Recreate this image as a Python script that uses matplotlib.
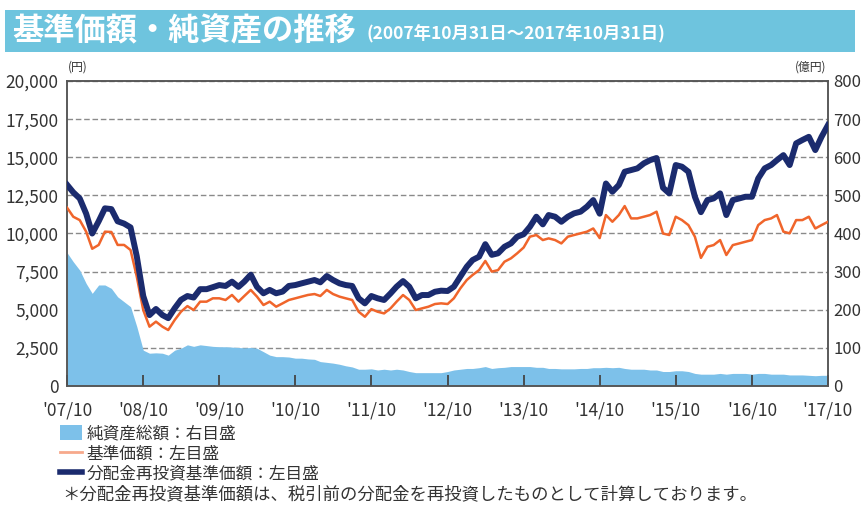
import matplotlib
matplotlib.use("Agg")
import matplotlib.pyplot as plt
import matplotlib.ticker as mticker
from matplotlib.patches import Rectangle, Patch
from matplotlib.lines import Line2D
import pandas as pd

plt.rcParams['font.family'] = ['Noto Sans CJK JP', 'DejaVu Sans']

# ---- data (monthly, 2007/10/31 - 2017/10/31) ----
dates = pd.date_range(start='2007-10-31', periods=121, freq='ME')

# 分配金再投資基準価額 (円, left axis)
reinvested_nav = [
    13200, 12700, 12300, 11300, 10000, 10800, 11650, 11600, 10800, 10650,
    10400, 8500, 5900, 4650, 5050, 4650, 4450, 5100, 5650, 5900,
    5800, 6350, 6350, 6480, 6620, 6560, 6840, 6500, 6840, 7300,
    6500, 6080, 6300, 6080, 6190, 6560, 6620, 6730, 6840, 6950,
    6800, 7210, 6950, 6730, 6620, 6560, 5750, 5420, 5900, 5750,
    5640, 6070, 6510, 6880, 6510, 5750, 5965, 5965, 6180, 6250,
    6230, 6510, 7170, 7820, 8260, 8480, 9300, 8600, 8700, 9130,
    9350, 9790, 9950, 10440, 11100, 10600, 11210, 11100, 10770, 11100,
    11320, 11430, 11760, 12190, 11300, 13280, 12740, 13180, 14050, 14160,
    14270, 14600, 14810, 14950, 13000, 12630, 14490, 14380, 14050, 12410,
    11400, 12190, 12300, 12630, 11210, 12190, 12300, 12410, 12410, 13610,
    14270, 14490, 14810, 15140, 14490, 15910, 16130, 16340, 15470, 16340,
    17110,
]

# 基準価額 (円, left axis)
nav = [
    11700, 11100, 10880, 10120, 9000, 9250, 10120, 10100, 9250, 9250,
    8920, 7170, 4980, 3890, 4220, 3890, 3670, 4330, 4870, 5240,
    4980, 5530, 5530, 5750, 5750, 5640, 5970, 5530, 5900, 6300,
    5860, 5310, 5530, 5200, 5420, 5640, 5750, 5860, 5970, 6030,
    5900, 6300, 6030, 5860, 5750, 5640, 4870, 4540, 5040, 4870,
    4760, 5090, 5530, 5965, 5640, 4980, 5090, 5200, 5375, 5420,
    5375, 5750, 6400, 6950, 7280, 7600, 8200, 7500, 7600, 8150,
    8370, 8700, 9080, 9790, 9900, 9570, 9680, 9570, 9350, 9790,
    9900, 10010, 10120, 10330, 9700, 11210, 10770, 11210, 11800, 10990,
    10990, 11100, 11210, 11430, 10000, 9900, 11100, 10880, 10550, 9790,
    8400, 9130, 9240, 9570, 8590, 9240, 9350, 9460, 9570, 10550,
    10880, 10990, 11210, 10120, 10010, 10880, 10880, 11100, 10330, 10550,
    10770,
]

# 純資産総額 (億円, right axis)
net_assets = [
    350, 326, 304, 269, 243, 265, 265, 256, 234, 221,
    208, 156, 94, 86, 87, 86, 81, 94, 99, 108,
    104, 108, 106, 104, 103, 103, 102, 101, 100, 101,
    99, 90, 81, 77, 77, 76, 73, 73, 71, 70,
    64, 62, 60, 57, 53, 50, 44, 44, 45, 42,
    44, 42, 44, 42, 38, 35, 35, 35, 35, 35,
    38, 42, 44, 46, 46, 48, 51, 46, 48, 49,
    51, 51, 51, 51, 49, 49, 46, 46, 45, 45,
    45, 46, 46, 48, 48, 49, 48, 49, 46, 44,
    44, 44, 42, 42, 38, 38, 40, 40, 38, 33,
    31, 31, 31, 33, 31, 33, 33, 33, 31, 33,
    33, 31, 31, 31, 29, 29, 29, 28, 27, 28,
    28,
]

xtick_dates = pd.date_range(start='2007-10-31', periods=11, freq='12ME')
xtick_labels = ["'07/10", "'08/10", "'09/10", "'10/10", "'11/10", "'12/10",
                "'13/10", "'14/10", "'15/10", "'16/10", "'17/10"]
left_ticks = [0, 2500, 5000, 7500, 10000, 12500, 15000, 17500, 20000]
right_ticks = [0, 100, 200, 300, 400, 500, 600, 700, 800]

legend_labels = ['純資産総額：右目盛', '基準価額：左目盛', '分配金再投資基準価額：左目盛']
note_text = '＊分配金再投資基準価額は、税引前の分配金を再投資したものとして計算しております。'
title_text = '基準価額・純資産の推移'
subtitle_text = '(2007年10月31日～2017年10月31日)'

# ---- style ----
NAVY = '#1B2B6E'
ORANGE = '#F0652B'
AREA = '#7DC1EA'
GRID = '#8A8A8A'
SPINE = '#555555'
TXT = '#333333'

W, H = 861, 507
fig = plt.figure(figsize=(W / 100, H / 100), dpi=100)
fig.patch.set_facecolor('white')

ax = fig.add_axes([67 / W, 1 - 386 / H, 761 / W, 305 / H])
ax2 = ax.twinx()
ax.set_zorder(ax2.get_zorder() + 1)
ax.patch.set_visible(False)

# area (right axis)
ax2.fill_between(dates, 0, net_assets, color=AREA, linewidth=0, zorder=2)
ax2.set_ylim(0, 800)
ax2.set_yticks(right_ticks)
ax2.set_yticklabels([str(v) for v in right_ticks])
ax2.set_axisbelow(True)
ax2.yaxis.grid(True, color=GRID, linestyle=(0, (4, 2)), linewidth=1.0)
ax2.tick_params(axis='y', length=0, pad=4, labelsize=12, labelcolor=TXT)

# lines (left axis)
ax.plot(dates, nav, color=ORANGE, linewidth=1.8, zorder=3)
ax.plot(dates, reinvested_nav, color=NAVY, linewidth=4.3, zorder=4,
        solid_joinstyle='round')
ax.set_ylim(0, 20000)
ax.set_yticks(left_ticks)
ax.yaxis.set_major_formatter(mticker.FuncFormatter(lambda v, p: f'{int(v):,}'))
ax.tick_params(axis='y', length=0, pad=6, labelsize=12.5, labelcolor=TXT)

ax.set_xlim(dates[0], dates[-1])
ax.set_xticks(xtick_dates)
ax.set_xticklabels(xtick_labels)
ax.tick_params(axis='x', direction='in', length=8, width=1.3, color='#444444',
               pad=11, labelsize=12.5, labelcolor=TXT)

for a in (ax, ax2):
    for s in a.spines.values():
        s.set_color(SPINE)
        s.set_linewidth(1.1)

# ---- title bar ----
fig.patches.append(Rectangle((5 / W, 1 - 52 / H), 850 / W, 42 / H,
                             transform=fig.transFigure, facecolor='#6EC4DE',
                             edgecolor='none', zorder=0))
fig.text(12 / W, 1 - 31 / H, title_text, color='white', fontsize=22.5,
         fontweight='bold', va='center', ha='left')
fig.text(366 / W, 1 - 34 / H, subtitle_text, color='white', fontsize=12.5,
         fontweight='bold', va='center', ha='left')

# units
fig.text(68 / W, 1 - 67 / H, '(円)', fontsize=8.5, color=TXT, va='center', ha='left')
fig.text(826 / W, 1 - 67 / H, '(億円)', fontsize=8.5, color=TXT, va='center', ha='right')

# ---- legend ----
handles = [Patch(facecolor=AREA, edgecolor='none'),
           Line2D([], [], color='#F7A98C', linewidth=2.0),
           Line2D([], [], color=NAVY, linewidth=4.0)]
fig.legend(handles, legend_labels, loc='upper left',
           bbox_to_anchor=(60 / W, 1 - 425 / H), frameon=False, fontsize=12,
           handlelength=1.3, handleheight=1.0, handletextpad=0.3,
           labelspacing=0.18, borderaxespad=0, borderpad=0, labelcolor=TXT)

fig.text(62 / W, 1 - 494 / H, note_text, fontsize=12.5, color=TXT,
         va='center', ha='left')

fig.savefig('out.png', dpi=100, facecolor='white')
